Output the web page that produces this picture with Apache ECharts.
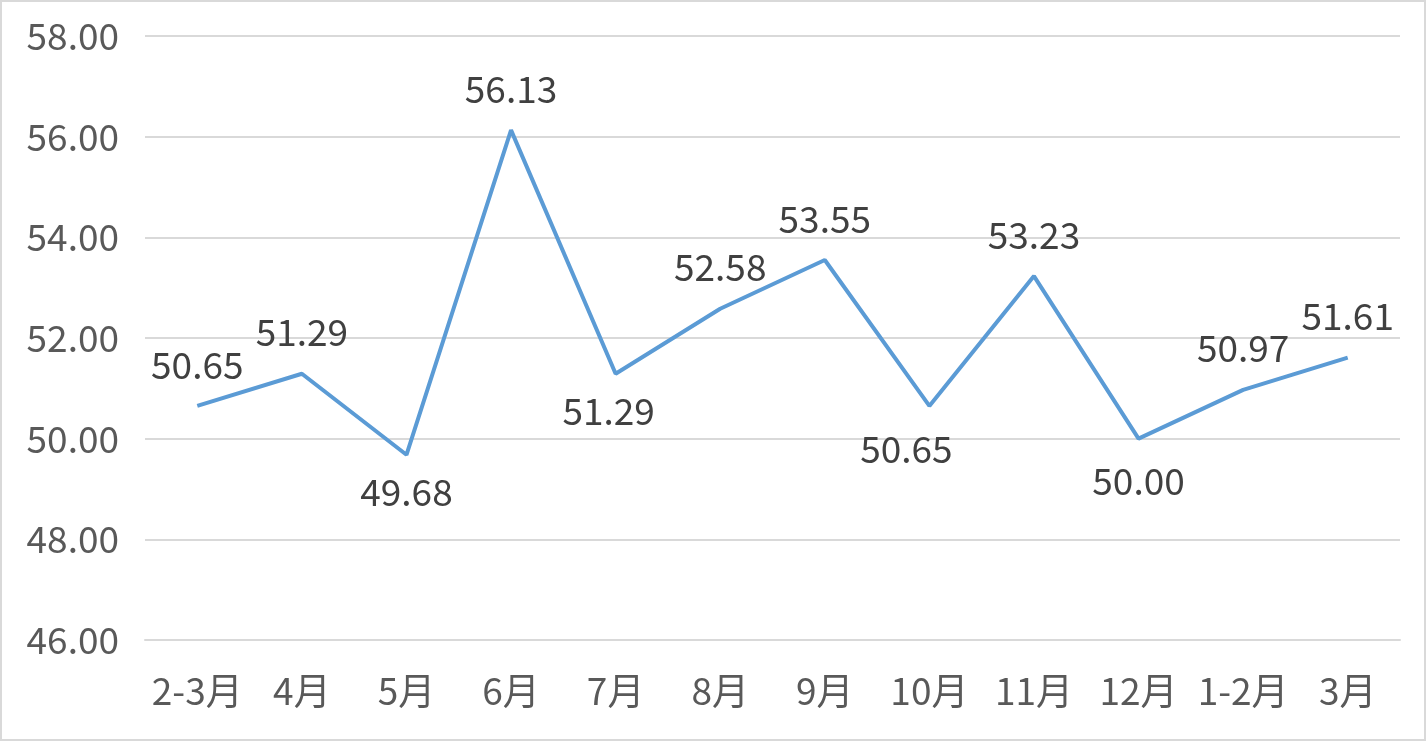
<!DOCTYPE html>
<html><head><meta charset="utf-8">
<script src="https://cdn.jsdelivr.net/npm/echarts@6/dist/echarts.min.js"></script>
<style>
html,body{margin:0;padding:0;background:#fff;}
#c{width:1426px;height:741px;box-sizing:border-box;border:2px solid #D9D9D9;}
</style></head>
<body><div id="c"></div>
<script>
const categories = ['2-3月','4月','5月','6月','7月','8月','9月','10月','11月','12月','1-2月','3月'];
const values = [50.65, 51.29, 49.68, 56.13, 51.29, 52.58, 53.55, 50.65, 53.23, 50.00, 50.97, 51.61];
const labelPos = ['top','top','bottom','top','bottom','top','top','bottom','top','bottom','top','top'];
const labelDx = [0,0,0,0,-7,0,0,-23,0,0,0,0];
const labelDy = [0,0,0,0,0,0,0,5,0,5,0,0];

const chart = echarts.init(document.getElementById('c'));
const font = '"Noto Sans CJK SC","Noto Sans",sans-serif';
chart.setOption({
  animation:false,
  grid:{left:143,right:24,top:34,bottom:99},
  xAxis:{type:'category',data:categories,boundaryGap:true,
    axisLine:{lineStyle:{color:'#D9D9D9',width:2}},axisTick:{show:false},
    axisLabel:{color:'#595959',fontSize:37,fontFamily:font,margin:32,interval:0}},
  yAxis:{type:'value',min:46,max:58,interval:2,
    axisLine:{show:false},axisTick:{show:false},
    splitLine:{lineStyle:{color:'#D9D9D9',width:2}},
    axisLabel:{color:'#595959',fontSize:37,fontFamily:font,margin:26,
      formatter:v=>v.toFixed(2)}},
  series:[{type:'line',
    data:values.map((v,i)=>({value:v,label:{position:labelPos[i],
      distance:labelPos[i]==='top'?23:19,offset:[labelDx[i],labelDy[i]]}})),
    symbol:'circle',symbolSize:0,
    lineStyle:{color:'#5B9BD5',width:4},itemStyle:{color:'#5B9BD5'},
    label:{show:true,color:'#404040',fontSize:37,fontFamily:font,
      formatter:p=>p.value.toFixed(2)}}]
});
</script></body></html>
